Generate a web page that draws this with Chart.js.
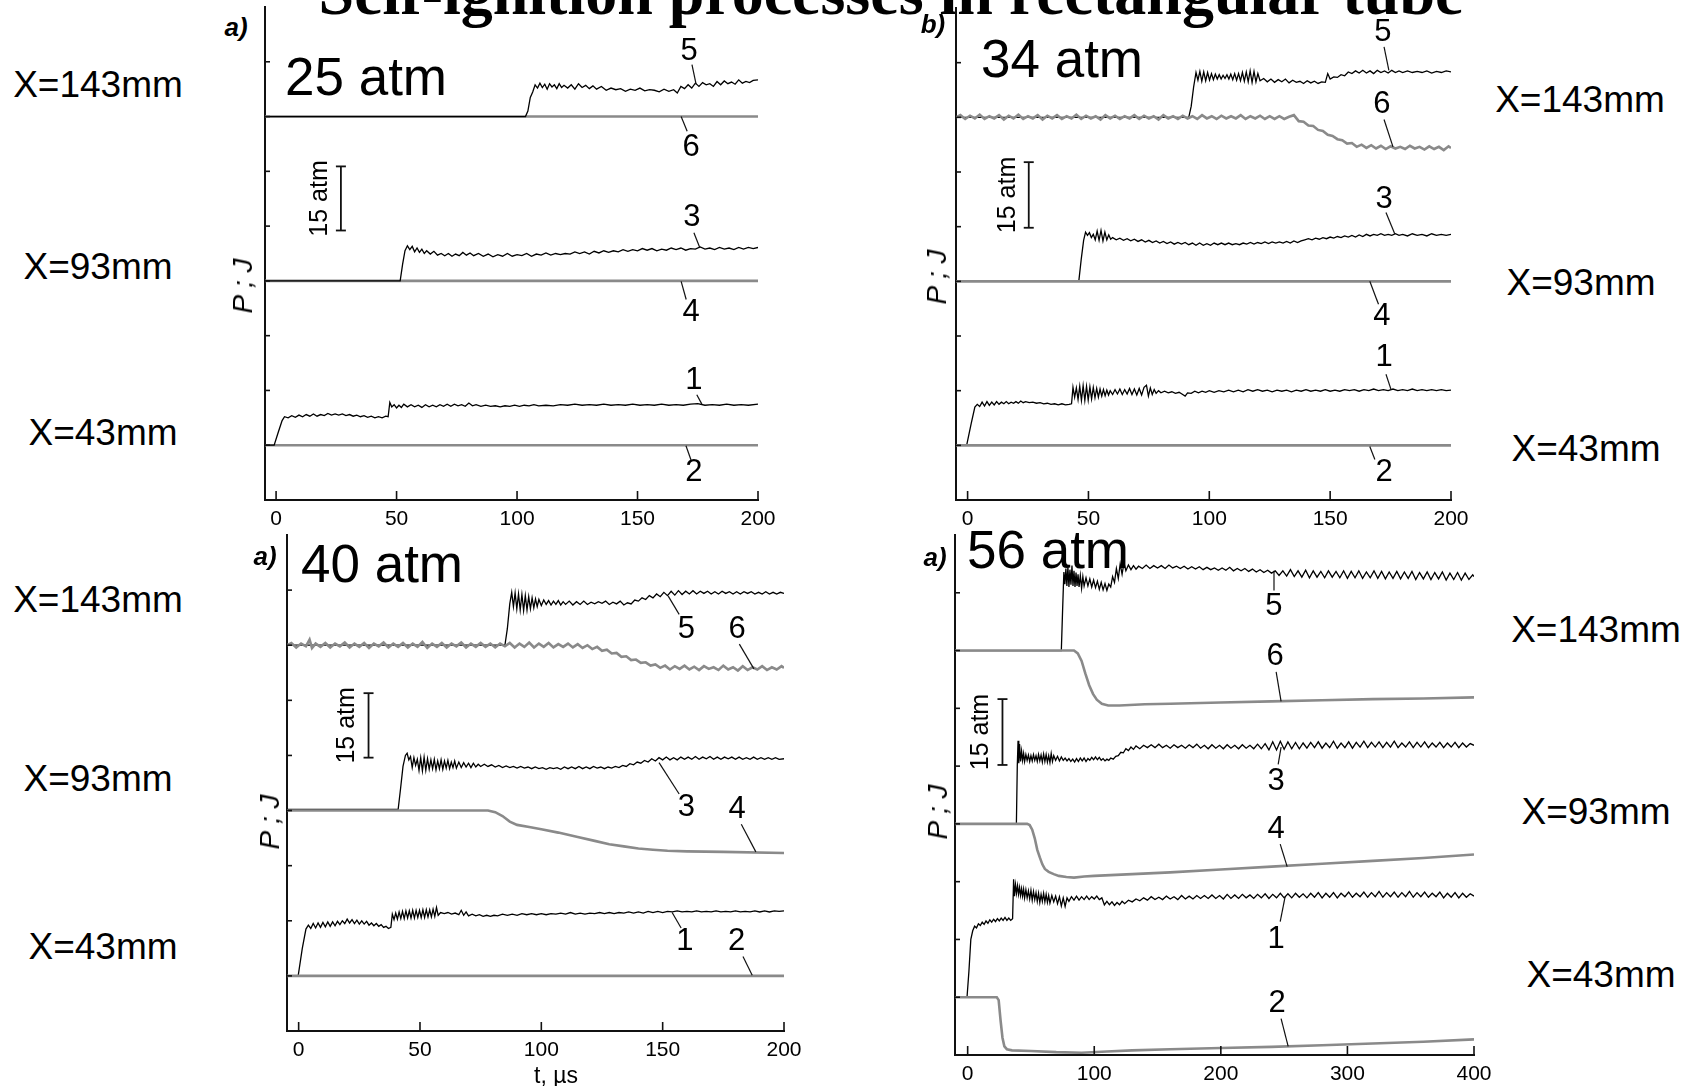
<!DOCTYPE html>
<html>
<head>
<meta charset="utf-8">
<script src="https://cdn.jsdelivr.net/npm/chart.js@4.4.1/dist/chart.umd.min.js"></script>
<style>
  body { margin: 0; background: #fff; }
  #page { position: relative; width: 1686px; height: 1086px; overflow: hidden; background: #fff;
          font-family: "Liberation Sans", Arial, sans-serif; color: #000; }
  .lbl { position: absolute; white-space: nowrap; line-height: 1; transform: translate(-50%, -50%); }
  .rot { transform: translate(-50%, -50%) rotate(-90deg); }
  .xl { font-size: 37px; }
  .atm { font-size: 53px; }
  .let { font-size: 26px; font-weight: bold; font-style: italic; }
  .pj { font-size: 28px; font-style: italic; }
  .tl { font-size: 23px; }
  .title { position: absolute; white-space: nowrap; line-height: 1; transform: translateX(-50%);
           font-family: "Liberation Serif", "Times New Roman", serif; font-weight: bold; font-size: 64px; }
  canvas { position: absolute; }
</style>
</head>
<body>
<div id="page">
  <div class="title" style="left:891px; top:-39px;">Self-ignition processes in rectangular tube</div>
  <canvas id="pA"></canvas>
  <canvas id="pB"></canvas>
  <canvas id="pC"></canvas>
  <canvas id="pD"></canvas>
</div>
<script>
// ---- data (t in µs, signal in axis divisions) ----
const X_TICKS_200 = [0, 50, 100, 150, 200];
const X_TICKS_400 = [0, 100, 200, 300, 400];
const Y_TICKS = [1, 2, 3, 4, 5, 6, 7, 8];

// 25 atm
const A6 = [[-4.6,7.0],[200,7.0]];
const A4 = [[-4.6,4.0],[200,4.0]];
const A2 = [[-4.6,1.0],[200,1.0]];
const A5 = [[-4.6,7.0],[103.5,7.0],[104.5,7.1],[105.5,7.35],[106.5,7.45],[107.5,7.58],[108.5,7.52],[109.5,7.61],[110.5,7.53],[111.5,7.59],[112.5,7.5],[113.5,7.6],[114.5,7.54],[115.5,7.58],[116.5,7.51],[117.5,7.6],[118.5,7.53],[119.5,7.57],[121,7.52],[122.5,7.58],[124,7.5],[125.5,7.6],[127,7.53],[128.5,7.57],[130,7.51],[131.5,7.56],[133,7.5],[135,7.55],[137,7.48],[139,7.52],[141,7.49],[143,7.51],[145,7.46],[147,7.5],[149,7.48],[151,7.52],[153,7.47],[155,7.49],[157,7.48],[159,7.45],[161,7.5],[163,7.46],[165,7.49],[166.5,7.43],[168,7.55],[169.5,7.51],[171,7.58],[172.5,7.52],[174,7.61],[175.5,7.55],[177,7.62],[178.5,7.58],[180,7.6],[181.5,7.55],[183,7.64],[184.5,7.58],[186,7.65],[187.5,7.6],[189,7.63],[190.5,7.59],[192,7.67],[193.5,7.61],[195,7.64],[196.5,7.62],[198,7.66],[200,7.67]];
const A3 = [[-4.6,4.0],[51.5,4.0],[52.5,4.3],[53.5,4.55],[54.5,4.64],[55.5,4.57],[56.5,4.63],[57.5,4.53],[58.5,4.6],[59.5,4.52],[60.5,4.58],[61.5,4.5],[62.5,4.55],[64,4.49],[65.5,4.54],[67,4.47],[68.5,4.5],[70,4.46],[71.5,4.5],[73,4.45],[74.5,4.49],[76,4.46],[77.5,4.52],[79,4.47],[80.5,4.51],[82,4.46],[84,4.5],[86,4.45],[88,4.49],[90,4.44],[92,4.48],[94,4.45],[96,4.5],[98,4.45],[100,4.48],[102,4.46],[104,4.5],[106,4.45],[108,4.49],[110,4.47],[112,4.51],[114,4.47],[116,4.5],[118,4.48],[120,4.5],[122,4.49],[124,4.53],[126,4.5],[128,4.53],[130,4.49],[132,4.54],[134,4.51],[136,4.55],[138,4.52],[140,4.55],[142,4.53],[144,4.57],[146,4.54],[148,4.57],[150,4.55],[152,4.59],[154,4.56],[156,4.59],[158,4.55],[160,4.58],[162,4.56],[164,4.6],[166,4.57],[168,4.6],[170,4.56],[172,4.59],[174,4.58],[176,4.62],[178,4.58],[180,4.6],[182,4.57],[184,4.61],[186,4.58],[188,4.6],[190,4.57],[192,4.61],[194,4.58],[196,4.61],[198,4.59],[200,4.61]];
const A1 = [[-4.6,1.0],[-0.8,1.0],[1,1.25],[2.5,1.45],[3.5,1.52],[5,1.5],[6.5,1.54],[8,1.51],[9.5,1.55],[11,1.52],[12.5,1.56],[14,1.53],[15.5,1.57],[17,1.53],[18.5,1.56],[20,1.54],[21.5,1.58],[23,1.55],[24.5,1.57],[26,1.55],[27.5,1.57],[29,1.54],[30.5,1.56],[32,1.53],[33.5,1.55],[35,1.52],[36.5,1.54],[38,1.51],[39.5,1.53],[41,1.5],[42.5,1.52],[44,1.5],[45.5,1.53],[46.5,1.52],[47.2,1.78],[48,1.7],[49,1.74],[50,1.68],[51,1.73],[52,1.69],[53,1.75],[54.5,1.7],[56,1.74],[57.5,1.7],[59,1.73],[60.5,1.69],[62,1.74],[63.5,1.7],[65,1.73],[66.5,1.7],[68,1.74],[69.5,1.71],[71,1.75],[72.5,1.71],[74,1.75],[75.5,1.72],[77,1.74],[78.5,1.71],[80,1.77],[81.5,1.72],[83,1.74],[85,1.71],[87,1.73],[89,1.71],[91,1.72],[93,1.7],[95,1.72],[97,1.71],[99,1.73],[101,1.71],[103,1.73],[105,1.72],[107,1.74],[109,1.72],[112,1.73],[115,1.72],[118,1.74],[121,1.73],[124,1.75],[127,1.73],[130,1.74],[133,1.73],[136,1.75],[139,1.73],[142,1.74],[145,1.73],[148,1.75],[151,1.73],[154,1.74],[157,1.73],[160,1.75],[163,1.73],[166,1.74],[169,1.73],[172,1.75],[175,1.76],[178,1.73],[181,1.74],[184,1.73],[187,1.75],[190,1.73],[193,1.74],[196,1.73],[200,1.75]];

// 34 atm
const B6 = [[-4.8,7.0],[-3,7.04],[-1,6.97],[1,7.03],[3,6.98],[5,7.05],[7,6.97],[9,7.02],[11,6.98],[13,7.04],[15,6.96],[17,7.03],[19,6.98],[21,7.05],[23,6.97],[25,7.02],[27,6.98],[29,7.04],[31,6.96],[33,7.03],[35,6.98],[37,7.04],[39,6.97],[41,7.02],[43,6.98],[45,7.05],[47,6.97],[49,7.03],[51,6.98],[53,7.02],[55,6.96],[57,7.04],[59,6.98],[61,7.03],[63,6.97],[65,7.02],[67,6.98],[69,7.04],[71,6.97],[73,7.03],[75,6.98],[77,7.02],[79,6.96],[81,7.04],[83,6.98],[85,7.02],[87,6.97],[89,7.03],[91,6.98],[93,7.02],[95,6.97],[97,7.04],[99,6.98],[101,7.02],[103,6.97],[105,7.03],[107,6.98],[109,7.02],[111,6.98],[113,7.04],[115,6.97],[117,7.02],[119,6.98],[121,7.03],[123,6.97],[125,7.02],[127,6.97],[129,7.02],[131,6.97],[133,7.01],[135,7.04],[137,6.93],[139,6.92],[141,6.85],[143,6.84],[145,6.77],[147,6.75],[149,6.68],[151,6.66],[153,6.6],[155,6.58],[157,6.52],[159,6.53],[161,6.46],[163,6.5],[165,6.44],[167,6.49],[169,6.43],[171,6.48],[173,6.42],[175,6.47],[177,6.43],[179,6.46],[181,6.42],[183,6.48],[185,6.43],[187,6.46],[189,6.41],[191,6.47],[193,6.42],[195,6.46],[197,6.4],[199,6.47],[200,6.44]];
const B4 = [[-4.8,4.0],[200,4.0]];
const B2 = [[-4.8,1.0],[200,1.0]];
const B5 = [[-4.8,7.0],[91.5,7.0],[92.5,7.2],[93.5,7.55],[94.5,7.82],[95.3,7.68],[96.1,7.84],[96.9,7.66],[97.7,7.83],[98.5,7.67],[99.3,7.82],[100.1,7.68],[100.9,7.8],[101.7,7.69],[102.5,7.79],[103.3,7.7],[104.1,7.78],[104.9,7.7],[105.7,7.77],[106.5,7.71],[107.3,7.78],[108.1,7.7],[108.9,7.79],[109.7,7.69],[110.5,7.8],[111.3,7.68],[112.1,7.8],[112.9,7.67],[113.7,7.82],[114.5,7.66],[115.3,7.83],[116.1,7.65],[116.9,7.85],[117.7,7.64],[118.5,7.84],[119.3,7.65],[120.1,7.8],[121,7.67],[122.5,7.71],[124,7.65],[125.5,7.7],[127,7.64],[128.5,7.69],[130,7.65],[131.5,7.7],[133,7.63],[134.5,7.68],[136,7.64],[137.5,7.66],[139,7.62],[140.5,7.67],[142,7.63],[143.5,7.66],[145,7.62],[146.5,7.65],[148,7.64],[149,7.8],[150,7.7],[151.5,7.74],[153,7.73],[154.5,7.78],[156,7.76],[157.5,7.83],[159,7.8],[160.5,7.85],[162,7.81],[163.5,7.86],[165,7.81],[166.5,7.85],[168,7.8],[169.5,7.86],[171,7.82],[172.5,7.85],[174,7.81],[175.5,7.86],[177,7.82],[178.5,7.85],[180,7.82],[182,7.85],[184,7.82],[186,7.84],[188,7.82],[190,7.85],[192,7.81],[194,7.84],[196,7.82],[198,7.85],[200,7.83]];
const B3 = [[-4.8,4.0],[46,4.0],[47,4.4],[48,4.75],[48.8,4.9],[49.6,4.84],[50.4,4.89],[51.2,4.8],[52,4.86],[52.8,4.76],[53.6,4.92],[54.4,4.75],[55.2,4.93],[56,4.74],[56.8,4.9],[57.6,4.76],[58.4,4.85],[59.2,4.77],[60,4.8],[61.5,4.76],[63,4.79],[64.5,4.75],[66,4.78],[67.5,4.74],[69,4.77],[70.5,4.73],[72,4.76],[73.5,4.72],[75,4.75],[76.5,4.71],[78,4.74],[79.5,4.7],[81,4.73],[82.5,4.69],[84,4.72],[85.5,4.68],[87,4.71],[88.5,4.68],[90,4.71],[91.5,4.67],[93,4.7],[94.5,4.66],[96,4.7],[97.5,4.66],[99,4.69],[100.5,4.66],[102,4.7],[103.5,4.67],[105,4.7],[106.5,4.67],[108,4.7],[109.5,4.67],[111,4.69],[112.5,4.67],[114,4.7],[115.5,4.68],[117,4.71],[118.5,4.68],[120,4.71],[121.5,4.69],[123,4.72],[124.5,4.69],[126,4.72],[127.5,4.7],[129,4.72],[130.5,4.7],[132,4.73],[133.5,4.7],[135,4.74],[136.5,4.71],[138,4.74],[139.5,4.76],[141,4.78],[142.5,4.76],[144,4.79],[145.5,4.77],[147,4.8],[148.5,4.78],[150,4.81],[151.5,4.79],[153,4.82],[154.5,4.8],[156,4.83],[157.5,4.81],[159,4.84],[160.5,4.81],[162,4.85],[163.5,4.82],[165,4.86],[166.5,4.83],[168,4.86],[169.5,4.84],[171,4.87],[172.5,4.84],[174,4.86],[175.5,4.84],[177,4.87],[178.5,4.84],[180,4.86],[182,4.83],[184,4.87],[186,4.84],[188,4.86],[190,4.83],[192,4.87],[194,4.84],[196,4.86],[198,4.84],[200,4.86]];
const B1 = [[-4.8,1.0],[-0.4,1.0],[1.5,1.4],[3,1.7],[4,1.75],[5,1.71],[6,1.79],[7,1.72],[8,1.8],[9,1.73],[10,1.79],[11,1.74],[12,1.8],[13,1.75],[14,1.79],[15,1.76],[16,1.8],[17,1.76],[18,1.79],[19,1.77],[20,1.8],[21,1.77],[22,1.81],[23,1.78],[24,1.8],[25.5,1.78],[27,1.79],[28.5,1.77],[30,1.78],[31.5,1.76],[33,1.77],[34.5,1.75],[36,1.76],[37.5,1.74],[39,1.76],[40.5,1.74],[42,1.75],[43,1.76],[43.6,2.06],[44.3,1.88],[45,2.05],[45.7,1.84],[46.4,2.08],[47.1,1.82],[47.8,2.09],[48.5,1.82],[49.2,2.08],[49.9,1.83],[50.6,2.07],[51.3,1.85],[52,2.06],[52.7,1.87],[53.4,2.04],[54.1,1.88],[54.8,2.03],[55.5,1.9],[56.2,2.02],[56.9,1.91],[57.6,2.01],[58.3,1.92],[59,2.0],[60,1.93],[61,2.02],[62,1.94],[63,2.03],[64,1.93],[65,2.02],[66,1.94],[67,2.04],[68,1.93],[69,2.03],[70,1.92],[71,2.04],[72,1.92],[73,2.06],[74,2.1],[74.8,1.9],[75.6,2.05],[76.4,1.93],[77.2,2.02],[78,1.95],[79,2.0],[80,1.96],[81.5,1.99],[83,1.96],[84.5,1.98],[86,1.95],[87.5,1.97],[89,1.93],[90,1.9],[91,1.96],[92.5,1.95],[94,1.99],[95.5,1.96],[97,1.99],[98.5,1.97],[100,2.0],[102,1.97],[104,2.0],[106,1.98],[108,2.01],[110,1.98],[112,2.01],[114,1.98],[116,2.02],[118,1.99],[120,2.02],[122,1.99],[124,2.01],[126,1.98],[128,2.01],[130,1.99],[132,2.01],[134,1.98],[136,2.01],[138,1.99],[140,2.02],[142,1.99],[144,2.01],[146,1.99],[148,2.02],[150,1.99],[152,2.01],[154,1.99],[156,2.02],[158,2.0],[160,2.02],[162,1.99],[164,2.02],[166,2.0],[168,2.03],[170,2.0],[172,2.02],[174,2.0],[176,2.03],[178,2.0],[180,2.02],[182,2.0],[184,2.03],[186,2.0],[188,2.02],[190,2.0],[192,2.02],[194,2.0],[196,2.02],[198,2.0],[200,2.01]];

// 40 atm
const C6 = [[-4.8,7.0],[-3,7.04],[-1,6.96],[1,7.03],[3,6.98],[4.5,7.1],[5.5,6.95],[7,7.03],[9,6.97],[11,7.04],[13,6.96],[15,7.03],[17,6.98],[19,7.05],[21,6.96],[23,7.03],[25,6.97],[27,7.04],[29,6.95],[31,7.03],[33,6.98],[35,7.05],[37,6.96],[39,7.03],[41,6.97],[43,7.04],[45,6.96],[47,7.03],[49,6.97],[51,7.06],[53,6.95],[55,7.03],[57,6.97],[59,7.04],[61,6.96],[63,7.03],[65,6.98],[67,7.05],[69,6.96],[71,7.03],[73,6.97],[75,7.04],[77,6.97],[79,7.03],[81,6.96],[83,7.03],[85,6.98],[87,7.04],[89,6.96],[91,7.03],[93,6.97],[95,7.05],[97,6.96],[99,7.03],[101,6.97],[103,7.04],[105,6.96],[107,7.02],[109,6.97],[111,7.03],[113,6.96],[115,7.02],[117,6.95],[119,7.0],[121,6.93],[123,6.97],[125,6.9],[127,6.92],[129,6.85],[131,6.86],[133,6.79],[135,6.8],[137,6.73],[139,6.74],[141,6.68],[143,6.69],[145,6.63],[147,6.65],[149,6.59],[151,6.63],[153,6.56],[155,6.62],[157,6.57],[159,6.63],[161,6.56],[163,6.61],[165,6.55],[167,6.62],[169,6.57],[171,6.6],[173,6.55],[175,6.63],[177,6.56],[179,6.6],[181,6.54],[183,6.62],[185,6.55],[187,6.6],[189,6.56],[191,6.62],[193,6.55],[195,6.6],[197,6.56],[199,6.62],[200,6.59]];
const C5 = [[-4.8,7.0],[85,7.0],[86,7.3],[87,7.75],[87.8,7.96],[88.5,7.7],[89.2,7.95],[89.9,7.66],[90.6,7.93],[91.3,7.64],[92,7.92],[92.7,7.63],[93.4,7.9],[94.1,7.64],[94.8,7.88],[95.5,7.66],[96.2,7.86],[96.9,7.68],[97.6,7.84],[98.3,7.7],[99,7.83],[100,7.72],[101,7.82],[102,7.74],[103,7.81],[104,7.73],[105,7.8],[106,7.74],[107,7.81],[108,7.73],[109,7.79],[110,7.74],[111.5,7.8],[113,7.73],[114.5,7.79],[116,7.74],[117.5,7.8],[119,7.74],[120.5,7.78],[122,7.75],[123.5,7.79],[125,7.76],[126.5,7.8],[128,7.74],[129.5,7.78],[131,7.75],[132.5,7.8],[134,7.73],[135.5,7.77],[137,7.75],[138.5,7.82],[140,7.8],[141.5,7.86],[143,7.83],[144.5,7.9],[146,7.86],[147.5,7.93],[149,7.88],[150.5,7.96],[152,7.9],[153.5,7.98],[155,7.91],[156.5,7.99],[158,7.92],[159.5,7.98],[161,7.93],[162.5,7.99],[164,7.93],[165.5,7.98],[167,7.94],[168.5,7.98],[170,7.93],[171.5,7.97],[173,7.93],[174.5,7.98],[176,7.94],[177.5,7.97],[179,7.93],[180.5,7.97],[182,7.93],[183.5,7.97],[185,7.94],[186.5,7.97],[188,7.93],[189.5,7.96],[191,7.93],[192.5,7.97],[194,7.93],[195.5,7.96],[197,7.93],[198.5,7.96],[200,7.94]];
const C4 = [[-4.8,4.0],[78,4.0],[81,3.97],[84,3.9],[87,3.8],[90,3.74],[95,3.7],[100,3.66],[107,3.6],[115,3.52],[122,3.45],[128,3.39],[134,3.35],[140,3.31],[146,3.29],[152,3.27],[160,3.26],[175,3.25],[200,3.23]];
const C3 = [[-4.8,4.02],[41,4.02],[42,4.4],[43,4.8],[44,5.0],[44.7,5.04],[45.4,4.92],[46.1,4.98],[46.8,4.78],[47.5,4.96],[48.2,4.82],[48.9,4.93],[49.6,4.73],[50.3,4.96],[51,4.72],[51.7,4.97],[52.4,4.73],[53.1,4.94],[53.8,4.75],[54.5,4.92],[55.2,4.76],[55.9,4.93],[56.6,4.74],[57.3,4.9],[58,4.76],[58.7,4.92],[59.4,4.75],[60.1,4.9],[60.8,4.77],[61.5,4.91],[62.2,4.76],[62.9,4.88],[63.6,4.78],[64.3,4.9],[65,4.77],[66,4.88],[67,4.78],[68,4.87],[69,4.79],[70,4.86],[71,4.78],[72,4.86],[73,4.79],[74,4.84],[75,4.8],[76.5,4.84],[78,4.8],[79.5,4.83],[81,4.79],[82.5,4.82],[84,4.78],[85.5,4.81],[87,4.78],[88.5,4.8],[90,4.77],[91.5,4.8],[93,4.77],[94.5,4.79],[96,4.76],[97.5,4.79],[99,4.76],[100.5,4.78],[102,4.75],[103.5,4.78],[105,4.76],[106.5,4.78],[108,4.75],[109.5,4.79],[111,4.76],[112.5,4.79],[114,4.76],[115.5,4.8],[117,4.76],[118.5,4.79],[120,4.76],[121.5,4.8],[123,4.77],[124.5,4.79],[126,4.76],[127.5,4.79],[129,4.77],[130.5,4.8],[132,4.78],[133.5,4.82],[135,4.8],[136.5,4.85],[138,4.83],[139.5,4.88],[141,4.86],[142.5,4.91],[144,4.88],[145.5,4.94],[147,4.9],[148.5,4.96],[150,4.92],[151.5,4.97],[153,4.92],[154.5,4.96],[156,4.92],[157.5,4.97],[159,4.93],[160.5,4.97],[162,4.93],[163.5,4.98],[165,4.93],[166.5,4.97],[168,4.94],[169.5,4.98],[171,4.93],[172.5,4.97],[174,4.93],[175.5,4.97],[177,4.94],[178.5,4.97],[180,4.93],[181.5,4.97],[183,4.93],[184.5,4.96],[186,4.93],[187.5,4.97],[189,4.93],[190.5,4.96],[192,4.93],[193.5,4.96],[195,4.93],[196.5,4.96],[198,4.93],[200,4.94]];
const C2 = [[-4.8,1.0],[200,1.0]];
const C1 = [[-4.8,1.0],[-0.2,1.0],[1.5,1.5],[3,1.85],[4,1.92],[5,1.86],[6,1.95],[7,1.87],[8,1.96],[9,1.88],[10,1.97],[11,1.89],[12,1.98],[13,1.9],[14,1.98],[15,1.91],[16,1.99],[17,1.93],[18,2.0],[19,1.95],[20,2.03],[21,1.96],[22,2.02],[23,1.95],[24,2.01],[25,1.94],[26,2.0],[27,1.94],[28,1.99],[29,1.92],[30,1.96],[31,1.91],[32,1.95],[33,1.9],[34,1.93],[35,1.88],[36,1.9],[37,1.86],[38,1.88],[38.6,2.12],[39.3,2.02],[40,2.14],[40.7,2.03],[41.4,2.16],[42.1,2.04],[42.8,2.17],[43.5,2.04],[44.2,2.18],[44.9,2.05],[45.6,2.18],[46.3,2.05],[47,2.19],[47.7,2.05],[48.4,2.19],[49.1,2.06],[49.8,2.19],[50.5,2.06],[51.2,2.2],[51.9,2.06],[52.6,2.2],[53.3,2.07],[54,2.2],[54.7,2.07],[55.4,2.21],[56.1,2.08],[56.8,2.24],[57.5,2.1],[58.5,2.15],[60,2.13],[61.5,2.15],[63,2.12],[64.5,2.14],[66,2.11],[67,2.19],[68,2.1],[69,2.16],[70,2.09],[71.5,2.12],[73,2.09],[74.5,2.11],[76,2.08],[77.5,2.1],[79,2.08],[80.5,2.1],[82,2.09],[84,2.12],[86,2.1],[88,2.12],[90,2.1],[92,2.13],[94,2.11],[96,2.13],[98,2.11],[100,2.13],[102,2.11],[104,2.13],[106,2.12],[108,2.14],[110,2.12],[112,2.15],[114,2.12],[116,2.14],[118,2.12],[120,2.14],[122,2.13],[124,2.15],[126,2.13],[128,2.15],[130,2.13],[132,2.15],[134,2.14],[136,2.16],[138,2.14],[140,2.16],[142,2.14],[144,2.17],[146,2.15],[148,2.17],[150,2.15],[152,2.17],[154,2.16],[156,2.18],[158,2.16],[160,2.17],[162,2.16],[164,2.18],[166,2.16],[168,2.17],[170,2.16],[172,2.18],[174,2.16],[176,2.17],[178,2.16],[180,2.18],[182,2.16],[184,2.17],[186,2.16],[188,2.18],[190,2.16],[192,2.18],[194,2.16],[196,2.18],[198,2.17],[200,2.18]];

// 56 atm
const D6 = [[-10,7.0],[84,7.0],[87,6.95],[90,6.82],[93,6.6],[96,6.4],[99,6.25],[102,6.15],[106,6.08],[111,6.05],[120,6.05],[140,6.07],[160,6.08],[200,6.1],[240,6.12],[280,6.14],[320,6.16],[360,6.17],[400,6.19]];
const D5 = [[-10,7.0],[74,7.0],[75,7.7],[76,8.36],[76.8,8.15],[77.6,8.42],[78.4,8.12],[79.2,8.45],[80,8.1],[80.8,8.4],[81.6,8.14],[82.4,8.47],[83.2,8.12],[84,8.38],[84.8,8.1],[85.6,8.35],[86.4,8.12],[87.2,8.32],[88,8.1],[89,8.3],[90,8.08],[91,8.28],[92,8.12],[93.5,8.26],[95,8.12],[96.5,8.24],[98,8.1],[99.5,8.22],[101,8.09],[102.5,8.2],[104,8.06],[105.5,8.18],[107,8.05],[108.5,8.16],[110,8.04],[111.5,8.15],[113,8.1],[114.5,8.28],[116,8.18],[117.5,8.42],[119,8.25],[120.5,8.5],[122,8.32],[123.5,8.52],[125,8.38],[127,8.48],[129,8.4],[131,8.47],[133,8.41],[135,8.46],[138,8.42],[141,8.48],[144,8.42],[147,8.47],[150,8.43],[153,8.47],[156,8.42],[159,8.48],[162,8.43],[165,8.46],[168,8.42],[171,8.46],[174,8.41],[177,8.45],[180,8.41],[183,8.45],[186,8.4],[189,8.44],[192,8.4],[195,8.43],[198,8.39],[201,8.43],[204,8.39],[207,8.44],[210,8.38],[213,8.42],[216,8.38],[219,8.42],[222,8.37],[225,8.41],[228,8.36],[231,8.4],[234,8.35],[237,8.39],[240,8.34],[243,8.38],[246,8.3],[249,8.38],[252,8.29],[255,8.4],[258,8.28],[261,8.38],[264,8.27],[267,8.39],[270,8.26],[273,8.38],[276,8.27],[279,8.37],[282,8.26],[285,8.38],[288,8.27],[291,8.37],[294,8.26],[297,8.38],[300,8.25],[303,8.37],[306,8.26],[309,8.38],[312,8.25],[315,8.36],[318,8.26],[321,8.38],[324,8.25],[327,8.37],[330,8.24],[333,8.36],[336,8.25],[339,8.37],[342,8.24],[345,8.36],[348,8.25],[351,8.37],[354,8.23],[357,8.35],[360,8.24],[363,8.36],[366,8.23],[369,8.35],[372,8.24],[375,8.36],[378,8.22],[381,8.34],[384,8.23],[387,8.35],[390,8.22],[393,8.34],[396,8.23],[399,8.31],[400,8.28]];
const D4 = [[-10,4.0],[47,4.0],[49,3.98],[51,3.9],[53,3.75],[55,3.55],[57,3.42],[59,3.3],[61,3.22],[64,3.17],[68,3.13],[72,3.1],[78,3.08],[84,3.07],[92,3.09],[100,3.1],[130,3.13],[160,3.16],[200,3.21],[240,3.26],[280,3.31],[320,3.36],[360,3.41],[400,3.47]];
const D3 = [[-10,4.0],[38.5,4.0],[39.2,5.0],[39.8,5.44],[40.4,5.05],[41,5.38],[41.8,5.08],[42.6,5.26],[43.4,5.1],[44.2,5.22],[45,5.08],[46,5.2],[47,5.1],[48,5.19],[49,5.08],[50,5.18],[51,5.09],[52,5.2],[53,5.1],[54,5.18],[55,5.08],[56,5.2],[57,5.09],[58,5.19],[59,5.07],[60,5.21],[61,5.08],[62,5.2],[63,5.07],[64,5.18],[65,5.06],[66,5.22],[67,5.08],[68,5.18],[69.5,5.1],[71,5.17],[72.5,5.09],[74,5.16],[75.5,5.1],[77,5.14],[78.5,5.09],[80,5.13],[81.5,5.08],[83,5.12],[84.5,5.07],[86,5.13],[87.5,5.08],[89,5.14],[90.5,5.09],[92,5.14],[93.5,5.08],[95,5.13],[96.5,5.1],[98,5.15],[99.5,5.11],[101,5.16],[102.5,5.11],[104,5.15],[105.5,5.1],[107,5.13],[108.5,5.09],[110,5.12],[111.5,5.1],[113,5.14],[115,5.12],[117,5.17],[119,5.18],[121,5.24],[123,5.23],[125,5.3],[127,5.27],[129,5.33],[131,5.29],[133,5.35],[136,5.3],[139,5.36],[142,5.32],[145,5.37],[148,5.32],[151,5.38],[154,5.32],[157,5.36],[160,5.31],[163,5.37],[166,5.32],[169,5.36],[172,5.31],[175,5.37],[178,5.32],[181,5.38],[184,5.31],[187,5.36],[190,5.3],[193,5.37],[196,5.31],[199,5.36],[202,5.3],[205,5.37],[208,5.31],[211,5.36],[214,5.3],[217,5.37],[220,5.31],[223,5.36],[226,5.3],[229,5.38],[232,5.3],[235,5.39],[238,5.28],[241,5.42],[244,5.28],[247,5.43],[250,5.29],[253,5.42],[256,5.3],[259,5.41],[262,5.3],[265,5.4],[268,5.31],[271,5.41],[274,5.32],[277,5.42],[280,5.31],[283,5.4],[286,5.32],[289,5.43],[292,5.31],[295,5.4],[298,5.32],[301,5.42],[304,5.31],[307,5.41],[310,5.33],[313,5.43],[316,5.32],[319,5.41],[322,5.33],[325,5.42],[328,5.32],[331,5.41],[334,5.33],[337,5.43],[340,5.32],[343,5.4],[346,5.33],[349,5.42],[352,5.32],[355,5.41],[358,5.33],[361,5.42],[364,5.32],[367,5.4],[370,5.33],[373,5.41],[376,5.32],[379,5.4],[382,5.33],[385,5.41],[388,5.32],[391,5.4],[394,5.33],[397,5.39],[400,5.36]];
const D2 = [[-10,1.0],[23,1.0],[24.5,0.95],[26,0.6],[27.5,0.3],[29,0.15],[31,0.1],[35,0.08],[50,0.07],[70,0.05],[90,0.04],[110,0.06],[130,0.08],[160,0.1],[200,0.12],[240,0.14],[280,0.17],[320,0.2],[360,0.23],[400,0.27]];
const D1 = [[-10,1.0],[-0.5,1.0],[1,1.45],[2.5,2.0],[4,2.15],[5.5,2.23],[7,2.2],[8.5,2.27],[10,2.24],[11.5,2.3],[13,2.26],[14.5,2.32],[16,2.28],[17.5,2.34],[19,2.3],[20.5,2.35],[22,2.31],[23.5,2.36],[25,2.32],[26.5,2.37],[28,2.33],[29.5,2.38],[31,2.33],[32.5,2.37],[34,2.33],[35.5,2.36],[36.3,3.04],[37,2.75],[37.8,2.95],[38.6,2.8],[39.4,2.93],[40.2,2.78],[41,2.9],[41.8,2.76],[42.6,2.88],[43.4,2.75],[44.2,2.87],[45,2.72],[46,2.86],[47,2.72],[48,2.84],[49,2.7],[50,2.85],[51,2.68],[52,2.83],[53,2.69],[54,2.81],[55,2.66],[56,2.8],[57,2.64],[58,2.78],[59,2.66],[60,2.8],[61,2.65],[62,2.78],[63,2.64],[64,2.76],[65,2.63],[66.5,2.76],[68,2.65],[69.5,2.75],[71,2.62],[72.5,2.74],[74,2.58],[75.5,2.72],[77,2.57],[78.5,2.72],[80,2.66],[82,2.74],[84,2.68],[86,2.75],[88,2.68],[90,2.74],[92,2.69],[94,2.75],[96,2.69],[98,2.74],[100,2.7],[102,2.75],[104,2.69],[106,2.72],[108,2.6],[110,2.66],[112,2.6],[114,2.65],[116,2.59],[118,2.64],[120,2.6],[122,2.66],[124,2.62],[127,2.68],[130,2.65],[133,2.7],[136,2.67],[139,2.72],[142,2.68],[145,2.74],[148,2.69],[151,2.73],[154,2.69],[157,2.75],[160,2.7],[163,2.74],[166,2.69],[169,2.76],[172,2.7],[175,2.75],[178,2.7],[181,2.76],[184,2.71],[187,2.76],[190,2.71],[193,2.77],[196,2.71],[199,2.76],[202,2.7],[205,2.78],[208,2.71],[211,2.77],[214,2.71],[217,2.78],[220,2.72],[223,2.77],[226,2.71],[229,2.78],[232,2.72],[235,2.79],[238,2.71],[241,2.78],[244,2.72],[247,2.8],[250,2.72],[253,2.79],[256,2.72],[259,2.8],[262,2.73],[265,2.79],[268,2.72],[271,2.8],[274,2.73],[277,2.81],[280,2.72],[283,2.8],[286,2.73],[289,2.81],[292,2.72],[295,2.8],[298,2.74],[301,2.82],[304,2.73],[307,2.8],[310,2.74],[313,2.82],[316,2.73],[319,2.81],[322,2.74],[325,2.83],[328,2.73],[331,2.81],[334,2.74],[337,2.82],[340,2.73],[343,2.81],[346,2.74],[349,2.83],[352,2.73],[355,2.81],[358,2.74],[361,2.82],[364,2.73],[367,2.8],[370,2.74],[373,2.82],[376,2.72],[379,2.8],[382,2.73],[385,2.81],[388,2.72],[391,2.8],[394,2.73],[397,2.79],[400,2.75]];

// curve numbers: [text, t, y, leader t1, y1, leader t2, y2]
const A_LABELS = [['5',171.4,8.19,172.6,7.95,174.3,7.59],['6',172.2,6.44,168.1,7.0,170.6,6.73],['3',172.6,5.16,173.4,4.88,175.9,4.6],['4',172.2,3.42,168.1,3.99,170.2,3.66],['1',173.4,2.19,174.6,1.92,176.7,1.75],['2',173.4,0.51,170.1,0.99,172.2,0.73]];
const B_LABELS = [['5',171.8,8.55,172.3,8.29,174.3,7.86],['6',171.4,7.23,172.3,6.96,176.0,6.46],['3',172.3,5.49,173.1,5.26,176.8,4.86],['4',171.4,3.36,166.4,4.0,170.0,3.58],['1',172.3,2.6,173.1,2.3,175.2,2.02],['2',172.3,0.5,166.4,0.98,168.5,0.74]];
const C_LABELS = [['5',159.8,7.29,152.3,7.89,156.8,7.56],['6',180.7,7.29,181.6,7.02,187.6,6.57],['3',159.8,4.05,148.5,4.87,156.8,4.3],['4',180.7,4.02,182.4,3.75,188.4,3.25],['1',159.1,1.62,153.9,2.15,157.6,1.87],['2',180.5,1.62,183.1,1.35,186.9,1.01]];
const D_LABELS = [['5',242,7.76,242,8.38,242,8.04],['6',242.9,6.89,243.7,6.63,247.6,6.12],['3',243.7,4.74,247.6,5.33,245.3,5.03],['4',243.7,3.91,246.9,3.65,252.4,3.26],['1',243.7,2.0,250.8,2.74,246.9,2.31],['2',244.5,0.9,247.6,0.63,253.2,0.15]];

// 15 atm scale bars: [t, y bottom, y top]
const A_BAR = [26.9, 4.92, 6.09];
const B_BAR = [25.3, 4.98, 6.18];
const C_BAR = [28.8, 4.96, 6.13];
const D_BAR = [27.5, 5.02, 6.16];

// ---- page text ----
const FONT = '"Liberation Sans", Arial, sans-serif';
const TEXTS = [
  ['X=143mm', 98, 84, 'xl'], ['X=93mm', 98, 266, 'xl'], ['X=43mm', 103, 432, 'xl'],
  ['X=143mm', 98, 599, 'xl'], ['X=93mm', 98, 778, 'xl'], ['X=43mm', 103, 946, 'xl'],
  ['X=143mm', 1580, 99, 'xl'], ['X=93mm', 1581, 282, 'xl'], ['X=43mm', 1586, 448, 'xl'],
  ['X=143mm', 1596, 629, 'xl'], ['X=93mm', 1596, 811, 'xl'], ['X=43mm', 1601, 974, 'xl'],
  ['25 atm', 366, 76, 'atm'], ['34 atm', 1062, 58, 'atm'], ['40 atm', 382, 563, 'atm'], ['56 atm', 1048, 549, 'atm'],
  ['a)', 236, 27, 'let'], ['b)', 933, 24, 'let'], ['a)', 265, 556, 'let'], ['a)', 935, 557, 'let'],
  ['P ; J', 243, 286, 'pj rot'], ['P ; J', 937, 277, 'pj rot'], ['P ; J', 270, 822, 'pj rot'], ['P ; J', 938, 812, 'pj rot'],
  ['t, µs', 556, 1075, 'tl']
];
const page = document.getElementById('page');
TEXTS.forEach(([txt, x, y, cls]) => {
  const d = document.createElement('div');
  d.className = 'lbl ' + cls;
  d.textContent = txt;
  d.style.left = x + 'px';
  d.style.top = y + 'px';
  page.appendChild(d);
});

// ---- charts ----
const BLACK = '#000', GREY = '#8a8a8a';

const PANELS = [
  { id: 'pA', area: [265, 7, 758, 500], xMin: -4.6, xMax: 200, xTicks: X_TICKS_200, greyOnTop: false,
    traces: [[A5, 0], [A6, 1], [A3, 0], [A4, 1], [A1, 0], [A2, 1]], labels: A_LABELS, bar: A_BAR },
  { id: 'pB', area: [956, 8, 1451, 500], xMin: -4.8, xMax: 200, xTicks: X_TICKS_200, greyOnTop: true,
    traces: [[B5, 0], [B6, 1], [B3, 0], [B4, 1], [B1, 0], [B2, 1]], labels: B_LABELS, bar: B_BAR },
  { id: 'pC', area: [287, 535, 784, 1031], xMin: -4.8, xMax: 200, xTicks: X_TICKS_200, greyOnTop: true,
    traces: [[C5, 0], [C6, 1], [C3, 0], [C4, 1], [C1, 0], [C2, 1]], labels: C_LABELS, bar: C_BAR },
  { id: 'pD', area: [955, 535, 1474, 1055], xMin: -10, xMax: 400, xTicks: X_TICKS_400, greyOnTop: true,
    traces: [[D5, 0], [D6, 1], [D3, 0], [D4, 1], [D1, 0], [D2, 1]], labels: D_LABELS, bar: D_BAR }
];

function marksPlugin(p) {
  return {
    id: 'marks',
    afterDatasetsDraw(chart) {
      const ctx = chart.ctx, xs = chart.scales.x, ys = chart.scales.y, a = chart.chartArea;
      const seg = (x1, y1, x2, y2) => { ctx.beginPath(); ctx.moveTo(x1, y1); ctx.lineTo(x2, y2); ctx.stroke(); };
      ctx.save();
      ctx.strokeStyle = '#111';
      ctx.lineWidth = 1.6;
      p.xTicks.forEach(v => { const px = xs.getPixelForValue(v); seg(px, a.bottom, px, a.bottom - 9); });
      Y_TICKS.forEach(v => { const py = ys.getPixelForValue(v); seg(a.left, py, a.left + 5, py); });

      // 15 atm bar
      const bx = xs.getPixelForValue(p.bar[0]);
      const by0 = ys.getPixelForValue(p.bar[1]), by1 = ys.getPixelForValue(p.bar[2]);
      ctx.lineWidth = 1.8;
      seg(bx, by0, bx, by1);
      seg(bx - 5, by0, bx + 5, by0);
      seg(bx - 5, by1, bx + 5, by1);
      ctx.save();
      ctx.translate(bx - 21, (by0 + by1) / 2);
      ctx.rotate(-Math.PI / 2);
      ctx.fillStyle = '#000';
      ctx.font = '25px ' + FONT;
      ctx.textAlign = 'center';
      ctx.textBaseline = 'middle';
      ctx.fillText('15 atm', 0, 0);
      ctx.restore();

      // curve numbers with leaders
      ctx.lineWidth = 1.2;
      ctx.fillStyle = '#000';
      ctx.font = '31px ' + FONT;
      ctx.textAlign = 'center';
      ctx.textBaseline = 'middle';
      p.labels.forEach(([txt, tx, ty, x1, y1, x2, y2]) => {
        ctx.fillText(txt, xs.getPixelForValue(tx), ys.getPixelForValue(ty));
        seg(xs.getPixelForValue(x1), ys.getPixelForValue(y1), xs.getPixelForValue(x2), ys.getPixelForValue(y2));
      });
      ctx.restore();
    }
  };
}

function makePanel(p) {
  const [l, t, r, b] = p.area;
  const padL = 12, padT = 8, padR = 36, axisH = 46;
  const cv = document.getElementById(p.id);
  cv.width = r - l + padL + padR;
  cv.height = b - t + padT + axisH;
  cv.style.left = (l - padL) + 'px';
  cv.style.top = (t - padT) + 'px';

  const datasets = p.traces.map(([pts, grey]) => ({
    data: pts.map(([x, y]) => ({ x, y })),
    borderColor: grey ? GREY : BLACK,
    borderWidth: grey ? 2.6 : 1.3,
    pointRadius: 0,
    tension: 0,
    fill: false,
    order: (!!grey === p.greyOnTop) ? 0 : 1
  }));

  new Chart(cv, {
    type: 'line',
    data: { datasets },
    options: {
      responsive: false,
      animation: false,
      events: [],
      devicePixelRatio: 1,
      layout: { padding: { left: padL, top: padT, right: padR, bottom: 0 } },
      plugins: { legend: { display: false }, tooltip: { enabled: false } },
      scales: {
        x: {
          type: 'linear', min: p.xMin, max: p.xMax,
          afterBuildTicks: s => { s.ticks = p.xTicks.map(v => ({ value: v })); },
          afterFit: s => { s.height = axisH; },
          grid: { display: false, drawTicks: false },
          border: { display: true, color: '#111', width: 2 },
          ticks: { color: '#000', font: { family: FONT, size: 21 }, padding: 7, maxRotation: 0, autoSkip: false }
        },
        y: {
          type: 'linear', min: 0, max: 9,
          afterFit: s => { s.width = 0; },
          grid: { display: false, drawTicks: false },
          border: { display: true, color: '#111', width: 2 },
          ticks: { display: false }
        }
      }
    },
    plugins: [marksPlugin(p)]
  });
}

PANELS.forEach(makePanel);
</script>
</body>
</html>
